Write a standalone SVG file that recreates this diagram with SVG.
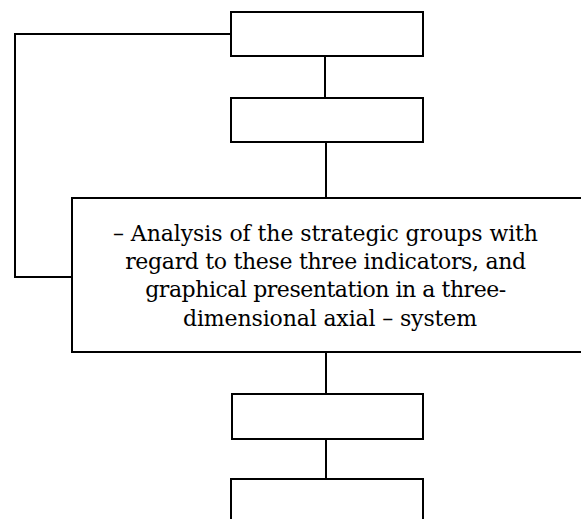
<svg xmlns="http://www.w3.org/2000/svg" width="581" height="519" viewBox="0 0 581 519">
  <style>
    .box { fill: #fff; stroke: #000; stroke-width: 2; }
    .link { fill: none; stroke: #000; stroke-width: 2; }
    .label { font-family: "DejaVu Serif", "Liberation Serif", serif; font-size: 22px; fill: #000; text-anchor: middle; }
  </style>
  <rect width="581" height="519" fill="#fff"/>

  <!-- connectors -->
  <g id="connectors">
    <polyline class="link" points="231,34 15,34 15,277 72,277"/>
    <line class="link" x1="325" y1="56" x2="325" y2="98"/>
    <line class="link" x1="326" y1="142" x2="326" y2="198"/>
    <line class="link" x1="326" y1="352" x2="326" y2="394"/>
    <line class="link" x1="326" y1="439" x2="326" y2="479"/>
  </g>

  <!-- nodes -->
  <g id="step1">
    <rect class="box" x="231" y="12" width="192" height="44"/>
  </g>
  <g id="step2">
    <rect class="box" x="231" y="98" width="192" height="44"/>
  </g>
  <g id="step3">
    <rect class="box" x="72" y="198" width="520" height="154"/>
    <text class="label">
      <tspan x="329" y="241" textLength="425">– Analysis of the strategic groups with</tspan>
      <tspan x="329" y="269" textLength="401">regard to these three indicators, and</tspan>
      <tspan x="329" y="297" textLength="361">graphical presentation in a three-</tspan>
      <tspan x="330" y="326" textLength="294">dimensional axial – system</tspan>
    </text>
  </g>
  <g id="step4">
    <rect class="box" x="232" y="394" width="191" height="45"/>
  </g>
  <g id="step5">
    <rect class="box" x="231" y="479" width="192" height="50"/>
  </g>
</svg>
